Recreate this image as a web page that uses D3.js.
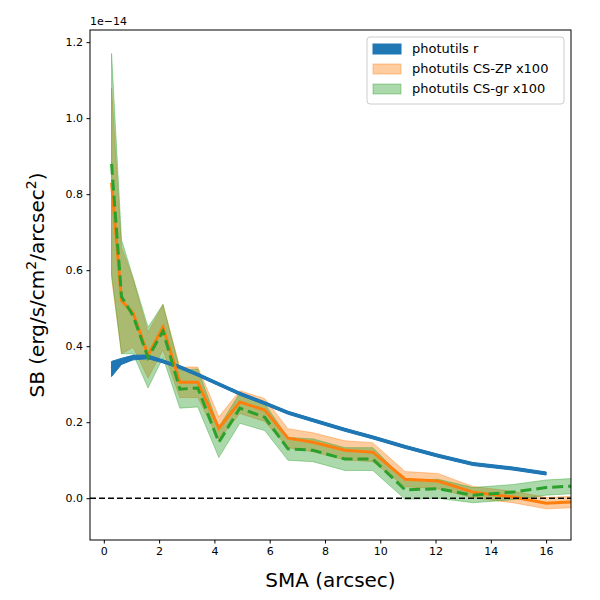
<!DOCTYPE html>
<html><head><meta charset="utf-8">
<script src="https://cdn.jsdelivr.net/npm/d3@7"></script>
<style>body{margin:0;background:#fff}text{font-family:"DejaVu Sans",sans-serif}</style>
</head><body><svg id="c" width="600" height="600"></svg>
<script>
// data in units of 1e-14 erg/s/cm^2/arcsec^2
var sma = [0.28,0.64,1.06,1.6,2.14,2.75,3.4,4.16,4.92,5.82,6.66,7.57,8.72,9.73,10.9,12.08,13.35,14.8,16.0,17.0];
var rMid = [0.34,0.36,0.37,0.372,0.36,0.345,0.325,0.30,0.275,0.25,0.225,0.205,0.18,0.16,0.135,0.112,0.09,0.078,0.065];
var rErr = [0.02,0.008,0.006,0.005,0.004,0.004,0.004,0.004,0.004,0.004,0.004,0.004,0.004,0.004,0.004,0.004,0.004,0.004,0.004];
var zpMid = [0.83,0.52,0.487,0.376,0.45,0.305,0.305,0.184,0.253,0.232,0.158,0.147,0.126,0.121,0.05,0.045,0.016,0.003,-0.013,-0.01];
var zpErr = [0.25,0.14,0.09,0.06,0.06,0.04,0.04,0.03,0.03,0.03,0.025,0.025,0.025,0.025,0.02,0.02,0.015,0.015,0.015,0.015];
var grMid = [0.88,0.53,0.48,0.37,0.44,0.287,0.29,0.147,0.237,0.213,0.13,0.126,0.103,0.103,0.022,0.025,0.008,0.016,0.028,0.032];
var grErr = [0.29,0.15,0.10,0.08,0.07,0.05,0.05,0.04,0.04,0.035,0.03,0.03,0.03,0.03,0.025,0.025,0.02,0.02,0.02,0.02];
var xTicks = [0,2,4,6,8,10,12,14,16];
var yTicks = [0,0.2,0.4,0.6,0.8,1.0,1.2];

var svg = d3.select("#c");
var L = 90, R = 571, T = 30, B = 540;
var x = d3.scaleLinear().domain([-0.5,16.9]).range([L,R]);
var y = d3.scaleLinear().domain([-0.11,1.232]).range([B,T]);

svg.append("clipPath").attr("id","clip").append("rect")
  .attr("x",L).attr("y",T).attr("width",R-L).attr("height",B-T);
var g = svg.append("g").attr("clip-path","url(#clip)");

function band(mid, err, color, op) {
  var a = d3.area().x(function(d,i){return x(sma[i]);})
    .y0(function(d,i){return y(mid[i]-err[i]);})
    .y1(function(d,i){return y(mid[i]+err[i]);});
  g.append("path").attr("d", a(mid)).attr("fill", color).attr("fill-opacity", op)
    .attr("stroke", color).attr("stroke-opacity", op).attr("stroke-width", 1);
}
function line(mid, color, dash) {
  var l = d3.line().x(function(d,i){return x(sma[i]);}).y(function(d){return y(d);});
  g.append("path").attr("d", l(mid)).attr("fill","none").attr("stroke",color)
    .attr("stroke-width",3).attr("stroke-dasharray", dash || null);
}
band(zpMid, zpErr, "#ff7f0e", 0.4);
band(grMid, grErr, "#2ca02c", 0.4);
band(rMid, rErr, "#1f77b4", 1);
line(rMid, "#1f77b4");
line(zpMid, "#ff7f0e");
line(grMid, "#2ca02c", "11,5");
g.append("line").attr("x1",L).attr("x2",R).attr("y1",y(0)).attr("y2",y(0))
  .attr("stroke","#000").attr("stroke-width",1.5).attr("stroke-dasharray","6,3");

svg.append("g").attr("transform","translate(0,"+B+")")
  .call(d3.axisBottom(x).tickValues(xTicks).tickSize(3.5).tickPadding(3.5).tickFormat(d3.format("d")))
  .call(function(a){a.select(".domain").remove();a.selectAll("text").attr("font-size",11).attr("fill","#000");});
svg.append("g").attr("transform","translate("+L+",0)")
  .call(d3.axisLeft(y).tickValues(yTicks).tickSize(3.5).tickPadding(3.5).tickFormat(d3.format(".1f")))
  .call(function(a){a.select(".domain").remove();a.selectAll("text").attr("font-size",11).attr("fill","#000");});
svg.append("rect").attr("x",L).attr("y",T).attr("width",R-L).attr("height",B-T)
  .attr("fill","none").attr("stroke","#000").attr("stroke-width",1);

svg.append("text").attr("x",L).attr("y",T-5).attr("font-size",11).text("1e\u221214");
svg.append("text").attr("x",(L+R)/2).attr("y",587).attr("text-anchor","middle")
  .attr("font-size",20).text("SMA (arcsec)");
var yl = svg.append("text").attr("transform","translate(44,"+((T+B)/2)+") rotate(-90)")
  .attr("text-anchor","middle").attr("font-size",20);
yl.append("tspan").text("SB (erg/s/cm");
yl.append("tspan").attr("dy",-8).attr("font-size",14).text("2");
yl.append("tspan").attr("dy",8).text("/arcsec");
yl.append("tspan").attr("dy",-8).attr("font-size",14).text("2");
yl.append("tspan").attr("dy",8).text(")");

var labels = ["photutils r","photutils CS-ZP x100","photutils CS-gr x100"];
var cols = ["#1f77b4","#ff7f0e","#2ca02c"];
var ops = [1,0.4,0.4];
var lg = svg.append("g").attr("transform","translate(367,37)");
lg.append("rect").attr("width",197).attr("height",67).attr("rx",3)
  .attr("fill","#fff").attr("fill-opacity",0.8).attr("stroke","#ccc");
labels.forEach(function(t,i){
  lg.append("rect").attr("x",6).attr("y",7+i*20).attr("width",28).attr("height",10)
    .attr("fill",cols[i]).attr("fill-opacity",ops[i]).attr("stroke",cols[i]).attr("stroke-opacity",ops[i]);
  lg.append("text").attr("x",45).attr("y",16+i*20).attr("font-size",13).text(t);
});
</script></body></html>
